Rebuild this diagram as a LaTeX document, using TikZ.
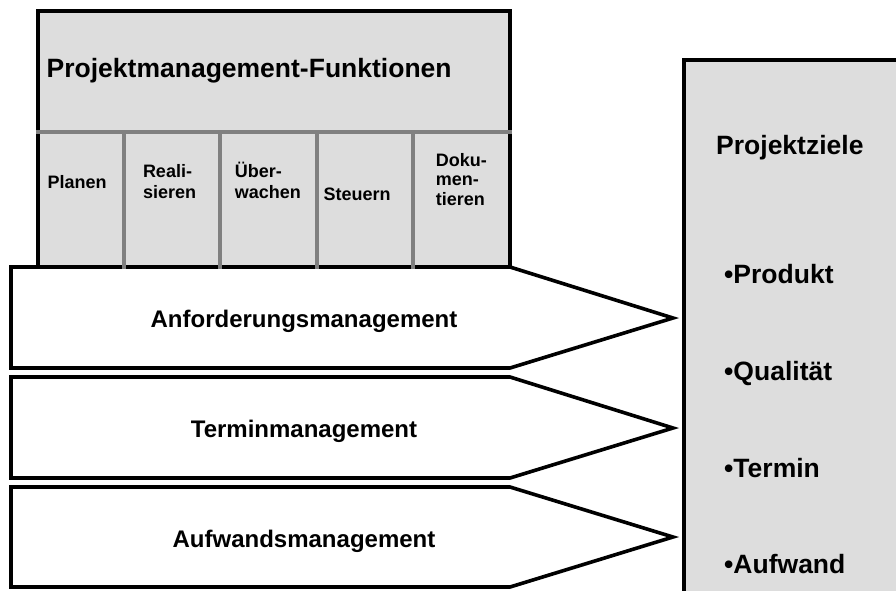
\documentclass[tikz,border=0pt]{standalone}
\usepackage{fontspec}
\setmainfont{Liberation Sans}
\definecolor{panelgray}{HTML}{DDDDDD}
\definecolor{rulegray}{HTML}{808080}

\begin{document}
\begin{tikzpicture}[x=1pt,y=-1pt,
  outline/.style={draw=black,line width=3.6pt,line join=miter,miter limit=12},
  divider/.style={draw=rulegray,line width=4.5pt},
  headtext/.style={inner sep=0pt,anchor=base west,font=\fontsize{26.5}{30}\selectfont\bfseries},
  coltext/.style={inner sep=0pt,anchor=base west,font=\fontsize{18}{21.5}\selectfont\bfseries},
  arrowtext/.style={inner sep=0pt,anchor=base,font=\fontsize{24}{28}\selectfont\bfseries},
  goaltext/.style={inner sep=0pt,anchor=base west,font=\fontsize{26.5}{30}\selectfont\bfseries}]
\useasboundingbox (0,0) rectangle (896,590);
\clip (0,0) rectangle (896,590);

% goals panel on the right, running past the frame
\coordinate (goal-nw) at (684,60);
\coordinate (goal-se) at (910,610);
\fill[panelgray] (goal-nw) rectangle (goal-se);
\draw[outline] (goal-nw |- goal-se) -- (goal-nw) -- (goal-nw -| goal-se);

% three management arrows
\coordinate (a1-nw) at (11,267);  \coordinate (a1-ne) at (510,267);
\coordinate (a1-tip) at (673,318);
\coordinate (a1-se) at (510,368); \coordinate (a1-sw) at (11,368);
\coordinate (a2-nw) at (11,377);  \coordinate (a2-ne) at (510,377);
\coordinate (a2-tip) at (673,428);
\coordinate (a2-se) at (510,478); \coordinate (a2-sw) at (11,478);
\coordinate (a3-nw) at (11,487);  \coordinate (a3-ne) at (510,487);
\coordinate (a3-tip) at (673,537);
\coordinate (a3-se) at (510,587); \coordinate (a3-sw) at (11,587);
\draw[outline,fill=white] (a1-nw) -- (a1-ne) -- (a1-tip) -- (a1-se) -- (a1-sw) -- cycle;
\draw[outline,fill=white] (a2-nw) -- (a2-ne) -- (a2-tip) -- (a2-se) -- (a2-sw) -- cycle;
\draw[outline,fill=white] (a3-nw) -- (a3-ne) -- (a3-tip) -- (a3-se) -- (a3-sw) -- cycle;

% functions panel
\coordinate (pm-nw) at (38,11);
\coordinate (pm-se) at (510,267);
\draw[outline,fill=panelgray] (pm-nw) rectangle (pm-se);
\coordinate (row-w) at (36,132);
\coordinate (row-e) at (512,132);
\draw[divider] (row-w) -- (row-e);
\foreach \cx [count=\k] in {124,220,317,413} {
  \coordinate (col\k-top) at (\cx,132);
  \coordinate (col\k-bot) at (\cx,269);
  \draw[divider] (col\k-top) -- (col\k-bot);
}

% texts
\node[headtext] (pmtitle) at (46.5,77) {Projektmanagement-Funktionen};
\node[coltext] (planen) at (47.4,188) {Planen};
\node[coltext] (real1) at (142.8,177) {Reali-};
\node[coltext] (real2) at (142.8,198.5) {sieren};
\node[coltext] (ueber1) at (234.6,177) {Über-};
\node[coltext] (ueber2) at (234.6,198.5) {wachen};
\node[coltext] (steuern) at (323.4,200) {Steuern};
\node[coltext] (doku1) at (435.6,166.5) {Doku-};
\node[coltext] (doku2) at (435.6,185.5) {men-};
\node[coltext] (doku3) at (435.6,205.5) {tieren};

\node[arrowtext] (anf) at (304,327) {Anforderungsmanagement};
\node[arrowtext] (term) at (304,437) {Terminmanagement};
\node[arrowtext] (aufw) at (304,547) {Aufwandsmanagement};

\node[goaltext] (ziele) at (716,154) {Projektziele};
\node[goaltext] (prod) at (724,283.5) {•Produkt};
\node[goaltext] (qual) at (724,380) {•Qualität};
\node[goaltext] (ttermin) at (724,477) {•Termin};
\node[goaltext] (taufw) at (724,573) {•Aufwand};
\end{tikzpicture}
\end{document}
